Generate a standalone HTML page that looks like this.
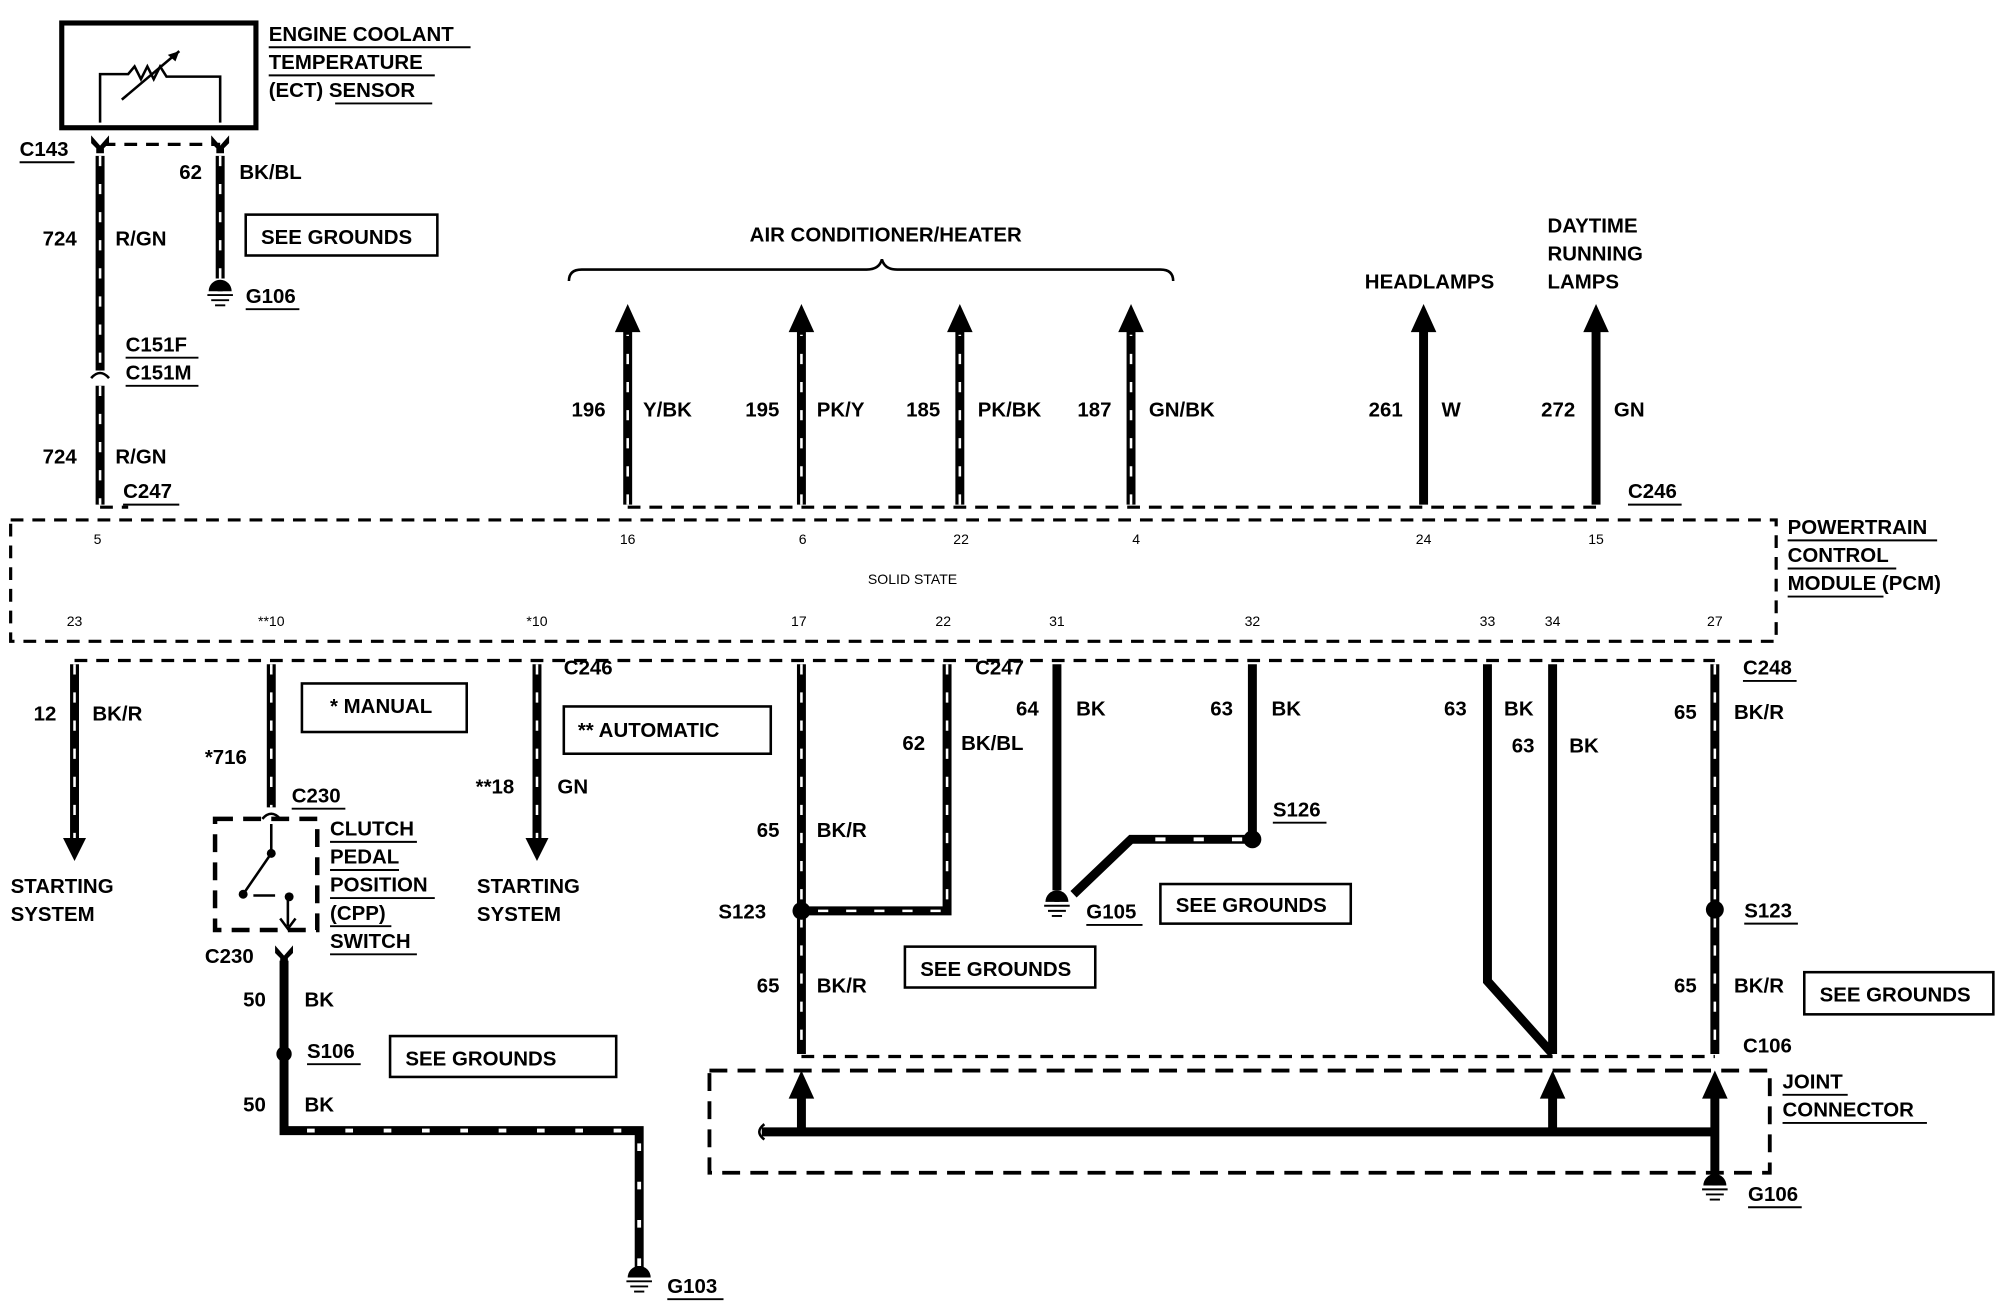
<!DOCTYPE html>
<html><head><meta charset="utf-8"><style>
html,body{margin:0;padding:0;background:#fff;}
svg{display:block}
text{font-family:"Liberation Sans",sans-serif;font-weight:bold;font-size:16px;fill:#000}
.p{font-size:11px;font-weight:normal}
.w{stroke:#000;stroke-width:7;fill:none}
.s{stroke:#fff;stroke-width:2;stroke-dasharray:8 14;fill:none}
.d{stroke:#000;stroke-width:2.5;stroke-dasharray:10 7;fill:none}
.b{stroke:#000;stroke-width:2;fill:none}
.u{stroke:#000;stroke-width:1.5}
</style></head><body>
<svg width="2004" height="1312" viewBox="0 0 1568 1027" xmlns="http://www.w3.org/2000/svg">
<defs>
<g id="gnd"><line x1="0" y1="-8" x2="0" y2="0" stroke="#000" stroke-width="4"/><path d="M-9,0 A9,9 0 0 1 9,0 Z" fill="#000"/><line x1="-10" y1="3" x2="10" y2="3" class="u"/><line x1="-7" y1="7" x2="7" y2="7" class="u"/><line x1="-4" y1="11" x2="4" y2="11" class="u"/></g>
<g id="chev"><path d="M-7,-6 L0,2 L7,-6 L7,0 L3,4 L3,8 L-3,8 L-3,4 L-7,0 Z" fill="#000"/></g>
</defs>
<!-- ECT sensor -->
<rect x="48" y="18" width="152" height="82" fill="none" stroke="#000" stroke-width="4"/>
<path d="M78,96 V58 H100 l5,-6 5,10 5,-10 5,10 5,-10 5,8 H172 V96" class="b"/>
<line x1="95" y1="78" x2="140" y2="40" class="b"/><path d="M140,40 l-9,3 6,5z" fill="#000"/>
<line x1="80" y1="113" x2="172" y2="113" class="d"/>
<use href="#chev" x="78" y="112"/><use href="#chev" x="172" y="112"/>
<text x="210" y="32">ENGINE COOLANT</text><text x="210" y="54">TEMPERATURE</text><text x="210" y="76">(ECT) SENSOR</text>
<line x1="210" y1="37" x2="368" y2="37" class="u"/><line x1="210" y1="59" x2="340" y2="59" class="u"/><line x1="262" y1="81" x2="338" y2="81" class="u"/>
<text x="15" y="122">C143</text><line x1="15" y1="127" x2="58" y2="127" class="u"/>
<!-- 724 -->
<path d="M78,122 V290 M78,302 V395" class="w"/><path d="M78,122 V290 M78,302 V395" class="s"/>
<path d="M71,296 Q78,288 85,296" class="b" stroke-width="3"/>
<text x="33" y="192">724</text><text x="90" y="192">R/GN</text>
<text x="98" y="275">C151F</text><line x1="98" y1="280" x2="155" y2="280" class="u"/>
<text x="98" y="297">C151M</text><line x1="98" y1="302" x2="155" y2="302" class="u"/>
<text x="33" y="363">724</text><text x="90" y="363">R/GN</text>
<text x="96" y="390">C247</text><line x1="96" y1="395" x2="140" y2="395" class="u"/>
<line x1="78" y1="397" x2="100" y2="397" class="d"/>
<!-- 62 BK/BL -->
<path d="M172,122 V218" class="w"/><path d="M172,122 V218" class="s"/>
<use href="#gnd" x="172" y="228"/>
<text x="140" y="140">62</text><text x="187" y="140">BK/BL</text>
<rect x="192" y="168" width="150" height="32" class="b"/><text x="204" y="191">SEE GROUNDS</text>
<text x="192" y="237">G106</text><line x1="192" y1="242" x2="234" y2="242" class="u"/>
<!-- PCM -->
<rect x="8" y="407" width="1382" height="95" class="d"/>
<g class="p" text-anchor="middle"><text class="p" x="76" y="426">5</text><text class="p" x="491" y="426">16</text><text class="p" x="628" y="426">6</text><text class="p" x="752" y="426">22</text><text class="p" x="889" y="426">4</text><text class="p" x="1114" y="426">24</text><text class="p" x="1249" y="426">15</text>
<text class="p" x="714" y="457">SOLID STATE</text>
<text class="p" x="58" y="490">23</text><text class="p" x="212" y="490">**10</text><text class="p" x="420" y="490">*10</text><text class="p" x="625" y="490">17</text><text class="p" x="738" y="490">22</text><text class="p" x="827" y="490">31</text><text class="p" x="980" y="490">32</text><text class="p" x="1164" y="490">33</text><text class="p" x="1215" y="490">34</text><text class="p" x="1342" y="490">27</text></g>
<text x="1399" y="418">POWERTRAIN</text><text x="1399" y="440">CONTROL</text><text x="1399" y="462">MODULE (PCM)</text>
<line x1="1399" y1="423" x2="1516" y2="423" class="u"/><line x1="1399" y1="445" x2="1484" y2="445" class="u"/><line x1="1399" y1="467" x2="1474" y2="467" class="u"/>
<!-- top outputs -->
<line x1="491" y1="397" x2="1249" y2="397" class="d"/>
<g id="ups">
<path d="M491,395 V255 M627,395 V255 M751,395 V255 M885,395 V255" class="w"/>
<path d="M491,395 V262 M627,395 V262 M751,395 V262 M885,395 V262" class="s"/>
<path d="M1114,395 V255 M1249,395 V255" class="w"/>
<path d="M481,260 L491,238 L501,260Z M617,260 L627,238 L637,260Z M741,260 L751,238 L761,260Z M875,260 L885,238 L895,260Z M1104,260 L1114,238 L1124,260Z M1239,260 L1249,238 L1259,260Z" fill="#000"/>
</g>
<text x="447" y="326">196</text><text x="503" y="326">Y/BK</text>
<text x="583" y="326">195</text><text x="639" y="326">PK/Y</text>
<text x="709" y="326">185</text><text x="765" y="326">PK/BK</text>
<text x="843" y="326">187</text><text x="899" y="326">GN/BK</text>
<text x="1071" y="326">261</text><text x="1128" y="326">W</text>
<text x="1206" y="326">272</text><text x="1263" y="326">GN</text>
<path d="M445,220 Q445,211 455,211 H678 Q688,211 690,203 Q692,211 702,211 H908 Q918,211 918,220" class="b" stroke-width="2.5"/>
<text x="693" y="189" text-anchor="middle">AIR CONDITIONER/HEATER</text>
<text x="1068" y="226">HEADLAMPS</text>
<text x="1211" y="182">DAYTIME</text><text x="1211" y="204">RUNNING</text><text x="1211" y="226">LAMPS</text>
<text x="1274" y="390">C246</text><line x1="1274" y1="395" x2="1316" y2="395" class="u"/>
<!-- bottom -->
<line x1="58" y1="517" x2="1342" y2="517" class="d"/>
<path d="M58,520 V660 M212,520 V632 M420,520 V660" class="w"/><path d="M58,520 V660 M212,520 V632 M420,520 V660" class="s"/>
<path d="M49,656 L58,674 L67,656Z M411,656 L420,674 L429,656Z" fill="#000"/>
<text x="26" y="564">12</text><text x="72" y="564">BK/R</text>
<text x="8" y="699">STARTING</text><text x="8" y="721">SYSTEM</text>
<text x="160" y="598">*716</text>
<text x="228" y="628">C230</text><line x1="228" y1="633" x2="270" y2="633" class="u"/>
<path d="M205,641 Q212,633 219,641" class="b" stroke-width="3"/>
<rect x="168" y="641" width="80" height="87" fill="none" stroke="#000" stroke-width="3.5" stroke-dasharray="14 8"/>
<path d="M212,645 V668 L190,700 M198,701 H215 M225,702 V725" class="b" stroke-width="2.5"/>
<circle cx="212" cy="668" r="3.5"/><circle cx="190" cy="700" r="3.5"/><circle cx="226" cy="702" r="3.5"/>
<path d="M219,719 L225,727 L231,719" class="b"/>
<text x="258" y="654">CLUTCH</text><text x="258" y="676">PEDAL</text><text x="258" y="698">POSITION</text><text x="258" y="720">(CPP)</text><text x="258" y="742">SWITCH</text>
<g class="u"><line x1="258" y1="659" x2="326" y2="659"/><line x1="258" y1="681" x2="312" y2="681"/><line x1="258" y1="703" x2="340" y2="703"/><line x1="258" y1="725" x2="306" y2="725"/><line x1="258" y1="747" x2="326" y2="747"/></g>
<text x="160" y="754">C230</text>
<use href="#chev" x="222" y="746"/>
<path d="M222,752 V885 H500 V992" class="w"/>
<path d="M240,885 H500 V992" stroke="#fff" stroke-width="3" stroke-dasharray="6 24" fill="none"/>
<circle cx="222" cy="825" r="6"/>
<use href="#gnd" x="500" y="1000"/>
<text x="522" y="1012">G103</text><line x1="522" y1="1017" x2="566" y2="1017" class="u"/>
<text x="190" y="788">50</text><text x="238" y="788">BK</text>
<text x="240" y="828">S106</text><line x1="240" y1="833" x2="282" y2="833" class="u"/>
<text x="190" y="870">50</text><text x="238" y="870">BK</text>
<rect x="305" y="811" width="177" height="32" class="b"/><text x="317" y="834">SEE GROUNDS</text>
<rect x="236" y="535" width="129" height="38" class="b"/><text x="258" y="558">*  MANUAL</text>
<rect x="441" y="553" width="162" height="37" class="b"/><text x="452" y="577">**  AUTOMATIC</text>
<text x="372" y="621">**18</text><text x="436" y="621">GN</text>
<text x="441" y="528">C246</text>
<text x="373" y="699">STARTING</text><text x="373" y="721">SYSTEM</text>
<!-- 65 / 62 -->
<path d="M627,520 V825 M741,520 V713 H627" class="w"/><path d="M627,520 V825 M741,520 V713 H627" class="s"/>
<circle cx="627" cy="713" r="7"/>
<text x="592" y="655">65</text><text x="639" y="655">BK/R</text>
<text x="706" y="587">62</text><text x="752" y="587">BK/BL</text>
<text x="763" y="528">C247</text>
<text x="562" y="719">S123</text>
<text x="592" y="777">65</text><text x="639" y="777">BK/R</text>
<rect x="708" y="741" width="149" height="32" class="b"/><text x="720" y="764">SEE GROUNDS</text>
<!-- 64/63 G105 -->
<path d="M827,520 V697" class="w"/><use href="#gnd" x="827" y="706"/>
<path d="M980,520 V657 M980,657 H885 L840,700" class="w"/>
<path d="M972,657 H890" stroke="#fff" stroke-width="3" stroke-dasharray="8 22" fill="none"/>
<circle cx="980" cy="657" r="7"/>
<text x="795" y="560">64</text><text x="842" y="560">BK</text>
<text x="947" y="560">63</text><text x="995" y="560">BK</text>
<text x="996" y="639">S126</text><line x1="996" y1="644" x2="1038" y2="644" class="u"/>
<text x="850" y="719">G105</text><line x1="850" y1="724" x2="894" y2="724" class="u"/>
<rect x="908" y="692" width="149" height="31" class="b"/><text x="920" y="714">SEE GROUNDS</text>
<!-- 63 pair -->
<path d="M1164,520 V768 L1215,825 M1215,520 V825" class="w"/>
<text x="1130" y="560">63</text><text x="1177" y="560">BK</text>
<text x="1183" y="589">63</text><text x="1228" y="589">BK</text>
<!-- 65 right -->
<path d="M1342,520 V825" class="w"/><path d="M1342,520 V825" class="s"/>
<circle cx="1342" cy="712" r="7"/>
<text x="1310" y="563">65</text><text x="1357" y="563">BK/R</text>
<text x="1364" y="528">C248</text><line x1="1364" y1="533" x2="1406" y2="533" class="u"/>
<text x="1365" y="718">S123</text><line x1="1365" y1="723" x2="1407" y2="723" class="u"/>
<text x="1310" y="777">65</text><text x="1357" y="777">BK/R</text>
<rect x="1412" y="761" width="148" height="33" class="b"/><text x="1424" y="784">SEE GROUNDS</text>
<text x="1364" y="824">C106</text>
<line x1="627" y1="827" x2="1342" y2="827" class="d"/>
<!-- joint connector -->
<rect x="555" y="838" width="830" height="80" fill="none" stroke="#000" stroke-width="3" stroke-dasharray="14 8"/>
<path d="M596,886 H1342 M627,886 V858 M1215,886 V858 M1342,886 V858 M1342,886 V920" class="w"/>
<path d="M617,860 L627,838 L637,860Z M1205,860 L1215,838 L1225,860Z M1332,860 L1342,838 L1352,860Z" fill="#000"/>
<path d="M598,880 Q590,886 598,892" class="b" stroke-width="3"/>
<use href="#gnd" x="1342" y="928"/>
<text x="1368" y="940">G106</text><line x1="1368" y1="945" x2="1410" y2="945" class="u"/>
<text x="1395" y="852">JOINT</text><text x="1395" y="874">CONNECTOR</text>
<line x1="1395" y1="857" x2="1446" y2="857" class="u"/><line x1="1395" y1="879" x2="1508" y2="879" class="u"/>
</svg>
</body></html>
